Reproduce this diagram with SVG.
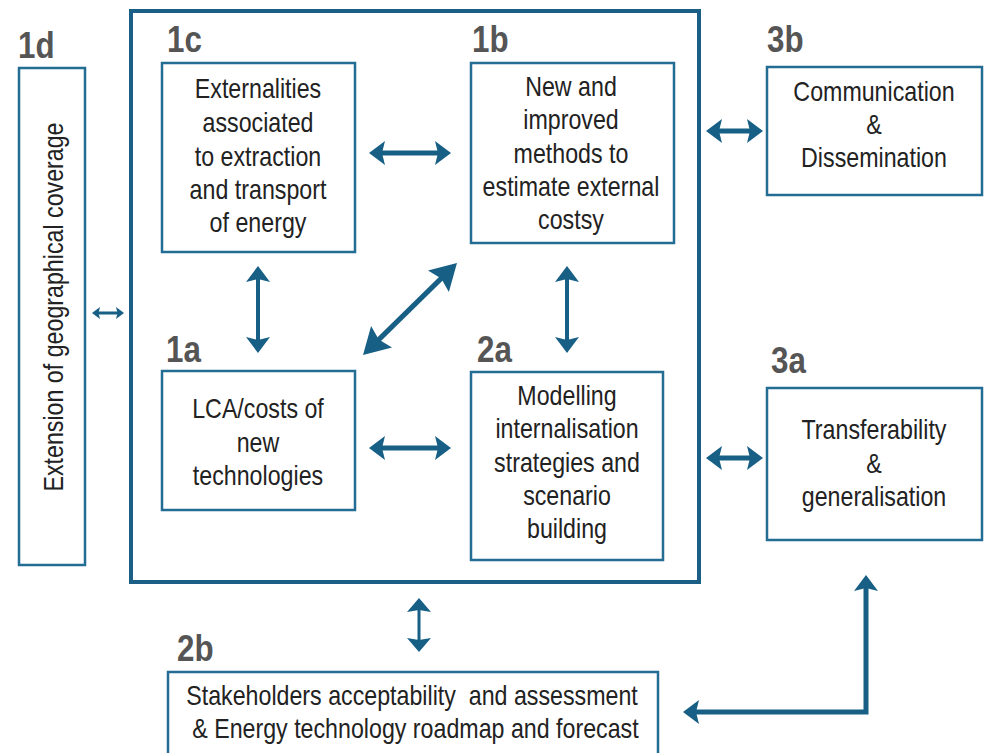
<svg xmlns="http://www.w3.org/2000/svg" width="989" height="753" viewBox="0 0 989 753">
<style>
.box{fill:#fff;stroke:#236c94;stroke-width:2.5}
.outer{fill:none;stroke:#1b5f86;stroke-width:4}
.t{font-family:"Liberation Sans",Arial,sans-serif;font-size:27px;fill:#222;text-anchor:middle}
.lbl{font-family:"Liberation Sans",Arial,sans-serif;font-weight:bold;font-size:36px;fill:#555}
.c{fill:none;stroke:#175f85;stroke-width:5}
.c4{fill:none;stroke:#175f85;stroke-width:4}
.c3{fill:none;stroke:#175f85;stroke-width:3}
.hd{fill:#175f85}
</style>
<defs>
<marker id="ah" markerUnits="userSpaceOnUse" viewBox="0 0 16 24" markerWidth="16" markerHeight="24" refX="6" refY="12" orient="auto-start-reverse"><path class="hd" d="M0,0 L16,12 L0,24 L3,12 Z"/></marker>
<marker id="ahL" markerUnits="userSpaceOnUse" viewBox="0 0 26 30" markerWidth="26" markerHeight="30" refX="14" refY="15" orient="auto-start-reverse"><path class="hd" d="M0,0 L26,15 L0,30 L4,15 Z"/></marker>
<marker id="ahM" markerUnits="userSpaceOnUse" viewBox="0 0 14 24" markerWidth="14" markerHeight="24" refX="6" refY="12" orient="auto-start-reverse"><path class="hd" d="M0,0 L14,12 L0,24 L2,12 Z"/></marker>
<marker id="ahS" markerUnits="userSpaceOnUse" viewBox="0 0 8 12" markerWidth="8" markerHeight="12" refX="3" refY="6" orient="auto-start-reverse"><path class="hd" d="M0,0 L8,6 L0,12 L1.5,6 Z"/></marker>
</defs>

<g id="outer-box"><rect class="outer" x="131" y="11" width="568" height="571"/></g>

<g id="node-1d">
<rect class="box" x="19" y="68" width="66" height="497"/>
<text class="lbl" transform="translate(18,0) scale(0.87,1)" x="0" y="58">1d</text>
<text class="t" transform="translate(63,307) rotate(-90) scale(0.86,1)" x="0" y="0">Extension of geographical coverage</text>
</g>

<g id="node-1c">
<rect class="box" x="162" y="63" width="193" height="189"/>
<text class="lbl" transform="translate(167,0) scale(0.87,1)" x="0" y="52">1c</text>
<g transform="translate(258,0) scale(0.86,1)">
<text class="t" x="0" y="98">Externalities</text>
<text class="t" x="0" y="132">associated</text>
<text class="t" x="0" y="166">to extraction</text>
<text class="t" x="0" y="199">and transport</text>
<text class="t" x="0" y="232">of energy</text>
</g>
</g>

<g id="node-1b">
<rect class="box" x="471" y="63" width="203" height="180"/>
<text class="lbl" transform="translate(472,0) scale(0.87,1)" x="0" y="52">1b</text>
<g transform="translate(571,0) scale(0.86,1)">
<text class="t" x="0" y="96">New and</text>
<text class="t" x="0" y="129">improved</text>
<text class="t" x="0" y="163">methods to</text>
<text class="t" x="0" y="196">estimate external</text>
<text class="t" x="0" y="229">costsy</text>
</g>
</g>

<g id="node-3b">
<rect class="box" x="767" y="67" width="215" height="128"/>
<text class="lbl" transform="translate(767,0) scale(0.87,1)" x="0" y="52">3b</text>
<g transform="translate(874,0) scale(0.86,1)">
<text class="t" x="0" y="101">Communication</text>
<text class="t" x="0" y="134">&amp;</text>
<text class="t" x="0" y="167">Dissemination</text>
</g>
</g>

<g id="node-1a">
<rect class="box" x="162" y="371" width="193" height="139"/>
<text class="lbl" transform="translate(166,0) scale(0.87,1)" x="0" y="362">1a</text>
<g transform="translate(258,0) scale(0.86,1)">
<text class="t" x="0" y="418">LCA/costs of</text>
<text class="t" x="0" y="452">new</text>
<text class="t" x="0" y="485">technologies</text>
</g>
</g>

<g id="node-2a">
<rect class="box" x="471" y="372" width="192" height="188"/>
<text class="lbl" transform="translate(477,0) scale(0.87,1)" x="0" y="362">2a</text>
<g transform="translate(567,0) scale(0.86,1)">
<text class="t" x="0" y="405">Modelling</text>
<text class="t" x="0" y="438">internalisation</text>
<text class="t" x="0" y="472">strategies and</text>
<text class="t" x="0" y="505">scenario</text>
<text class="t" x="0" y="538">building</text>
</g>
</g>

<g id="node-3a">
<rect class="box" x="767" y="388" width="215" height="152"/>
<text class="lbl" transform="translate(771,0) scale(0.87,1)" x="0" y="373">3a</text>
<g transform="translate(874,0) scale(0.86,1)">
<text class="t" x="0" y="439">Transferability</text>
<text class="t" x="0" y="473">&amp;</text>
<text class="t" x="0" y="506">generalisation</text>
</g>
</g>

<g id="node-2b">
<rect class="box" x="168" y="672" width="490" height="100"/>
<text class="lbl" transform="translate(177,0) scale(0.87,1)" x="0" y="661">2b</text>
<g transform="translate(412,0) scale(0.86,1)">
<text class="t" x="0" y="705" xml:space="preserve">Stakeholders acceptability  and assessment</text>
<text class="t" x="4" y="738">&amp; Energy technology roadmap and forecast</text>
</g>
</g>

<g id="connectors">
<path class="c" d="M379,153 L441,153" marker-start="url(#ah)" marker-end="url(#ah)"/>
<path class="c" d="M379,448 L441,448" marker-start="url(#ah)" marker-end="url(#ah)"/>
<path class="c" d="M716,131 L753,131" marker-start="url(#ah)" marker-end="url(#ah)"/>
<path class="c" d="M716,458 L753,458" marker-start="url(#ah)" marker-end="url(#ah)"/>
<path class="c4" d="M258,276 L258,343" marker-start="url(#ah)" marker-end="url(#ah)"/>
<path class="c4" d="M567,276 L567,343" marker-start="url(#ah)" marker-end="url(#ah)"/>
<path class="c" d="M371.6,346.6 L448.4,271.4" marker-start="url(#ahL)" marker-end="url(#ahL)"/>
<path class="c3" d="M97,313 L119,313" marker-start="url(#ahS)" marker-end="url(#ahS)"/>
<path class="c3" d="M419,606 L419,644" marker-start="url(#ahM)" marker-end="url(#ahM)"/>
<path class="c" d="M693,712 L866,712 L866,585" marker-start="url(#ah)" marker-end="url(#ah)"/>
</g>
</svg>
